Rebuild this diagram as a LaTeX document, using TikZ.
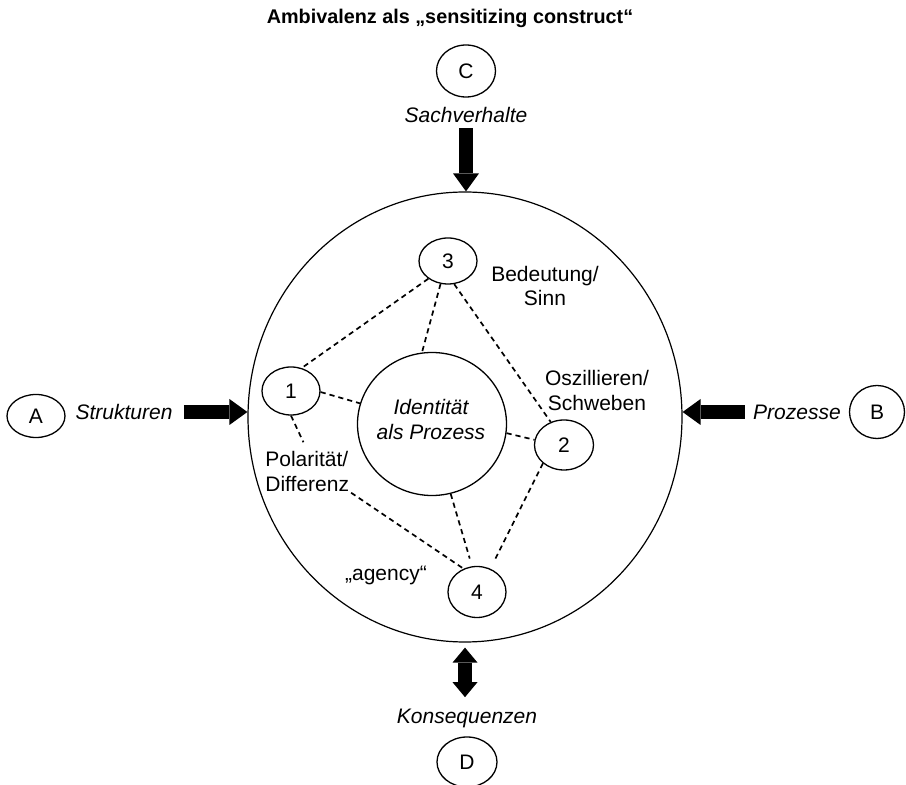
\documentclass[tikz,border=0pt]{standalone}
\usepackage{fontspec}
\setmainfont{Liberation Sans}
\usetikzlibrary{shapes.geometric,arrows.meta}
\begin{document}
\begin{tikzpicture}[x=0.5pt,y=-0.5pt,
  every node/.style={font=\fontsize{10.5}{12.5}\selectfont},
  oval/.style={draw, ellipse, line width=0.65pt, inner sep=0pt},
  lbl/.style={inner sep=0pt, align=center},
  itl/.style={lbl, font=\fontsize{10.5}{12.5}\selectfont\itshape},
  link/.style={dash pattern=on 2.6pt off 2pt, line width=0.85pt},
  fat/.style={line width=7pt, -{Triangle[length=9pt,width=13pt,line width=0pt]}},
  fatboth/.style={line width=7pt, {Triangle[length=7.5pt,width=12.5pt,line width=0pt]}-{Triangle[length=7.5pt,width=12.5pt,line width=0pt]}},
]
\useasboundingbox (0,0) rectangle (906,785);
% title
\node[lbl, font=\fontsize{9.9}{12}\selectfont\bfseries] (title) at (450,18) {Ambivalenz als „sensitizing construct“};
% big circle
\node[oval, line width=0.6pt, minimum width=217pt, minimum height=225pt] (big) at (465,417) {};
% central circle
\node[oval, minimum width=74.5pt, minimum height=71.5pt] (cen) at (432,424) {};
\node[itl] (cent) at (431,419) {Identität\\als Prozess};
% small ellipses
\node[oval, minimum width=29pt, minimum height=23pt] (n3) at (448,261) {3};
\node[oval, minimum width=29pt, minimum height=24pt] (n1) at (291,391) {1};
\node[oval, minimum width=29.5pt, minimum height=25pt] (n2) at (564,445) {2};
\node[oval, minimum width=29pt, minimum height=25.5pt] (n4) at (477,592) {4};
% outer ellipses
\node[oval, minimum width=29pt, minimum height=21.5pt] (A) at (36,416) {A};
\node[oval, minimum width=27.5pt, minimum height=26.5pt] (B) at (877,412) {B};
\node[oval, minimum width=29.5pt, minimum height=26pt] (C) at (466,71) {C};
\node[oval, minimum width=30pt, minimum height=25pt] (D) at (467,762) {D};
% outer labels
\node[itl] (sach) at (466,115) {Sachverhalte};
\node[itl] (struk) at (124,412) {Strukturen};
\node[itl] (proz) at (797,412) {Prozesse};
\node[itl] (kons) at (467,718) {Konsequenzen};
% inner labels
\node[lbl] (bed) at (545,286) {Bedeutung/\\Sinn};
\node[lbl] (osz) at (597,390) {Oszillieren/\\Schweben};
\node[lbl, align=left, anchor=west] (pol) at (265,471) {Polarität/\\Differenz};
\node[lbl] (agency) at (386,575) {„agency“};
% fat arrows
\draw[fat, shorten <=2.5pt] (sach.south) -- (sach.south |- big.north);
\draw[fat, shorten <=5.5pt] (struk.east) -- (big.west |- struk.east);
\draw[fat, shorten <=4pt] (proz.west) -- (big.east |- proz.west);
\draw[fatboth, shorten <=2.5pt, shorten >=5.5pt] (big.south) -- (big.south |- kons.north);
% dashed links
\draw[link] (n3.222) -- (n1.65);
\draw[link] (n3.252) -- (cen.98);
\draw[link] (n3.285) -- (n2.120);
\draw[link] (n1.358) -- (cen.164);
\draw[link, shorten >=4.5pt] (n1.south) -- (pol.north);
\draw[link, shorten <=1pt] (pol.south east) -- (n4.120);
\draw[link] (cen.353) -- (n2.170);
\draw[link, shorten >=4pt] (cen.285) -- (n4.101);
\draw[link, shorten >=4pt] (n2.221) -- (n4.60);
\end{tikzpicture}
\end{document}
